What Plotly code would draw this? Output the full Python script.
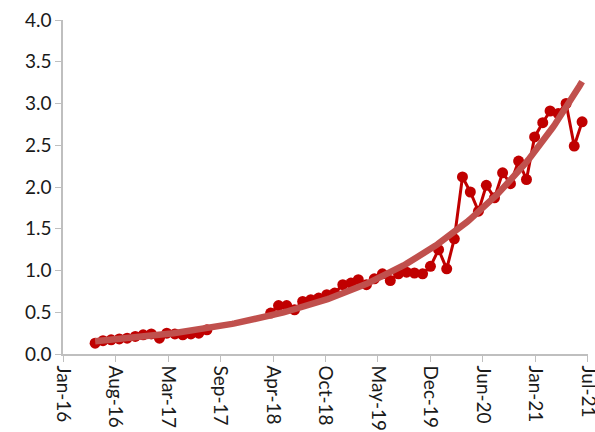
import numpy as np
import pandas as pd
import plotly.graph_objects as go

# ---- data (monthly) ----
months_a = pd.date_range("2016-06-01", "2017-08-01", freq="MS")
values_a = [0.13, 0.16, 0.17, 0.18, 0.19, 0.21, 0.23, 0.24, 0.19, 0.25,
            0.24, 0.23, 0.24, 0.25, 0.29]
months_gap = pd.date_range("2017-09-01", "2018-03-01", freq="MS")
months_b = pd.date_range("2018-04-01", "2021-07-01", freq="MS")
values_b = [0.49, 0.58, 0.58, 0.53, 0.63, 0.65, 0.67, 0.71, 0.73, 0.83,
            0.85, 0.89, 0.83, 0.90, 0.96, 0.88, 0.96, 0.98, 0.97, 0.96,
            1.05, 1.25, 1.02, 1.38, 2.12, 1.94, 1.71, 2.02, 1.87, 2.17,
            2.04, 2.31, 2.09, 2.60, 2.77, 2.91, 2.88, 3.00, 2.49, 2.78]

dates = list(months_a) + list(months_gap) + list(months_b)
values = values_a + [None] * len(months_gap) + values_b

# x-axis ticks (Excel date axis, 200-day major unit)
axis_start = pd.Timestamp("2016-01-31")
major_days = 200
n_ticks = 11
tick_dates = [axis_start + pd.Timedelta(days=major_days * i) for i in range(n_ticks)]
tick_labels = [d.strftime("%b-%y") for d in tick_dates]

# ---- exponential trendline (least squares on ln y, as Excel) ----
valid = [(d, v) for d, v in zip(dates, values) if v is not None]
t = np.array([(d - axis_start).days for d, _ in valid], dtype=float)
y = np.array([v for _, v in valid])
b, ln_a = np.polyfit(t, np.log(y), 1)
t_fit = np.linspace(t.min(), t.max(), 200)
trend_x = [axis_start + pd.Timedelta(days=float(d)) for d in t_fit]
trend_y = np.exp(ln_a + b * t_fit)

fig = go.Figure()
fig.add_trace(go.Scatter(
    x=dates, y=values, mode="lines+markers", connectgaps=False,
    line=dict(color="#C00000", width=3),
    marker=dict(color="#C00000", size=11),
    showlegend=False,
))
fig.add_trace(go.Scatter(
    x=trend_x, y=trend_y, mode="lines",
    line=dict(color="#C0504D", width=6.5),
    showlegend=False,
))

font = dict(family="Lato, 'Open Sans', sans-serif", size=19, color="#1a1a1a")
fig.update_layout(
    width=595, height=432,
    margin=dict(l=63, r=7, t=20, b=78),
    plot_bgcolor="white", paper_bgcolor="white",
    font=font,
)
fig.update_xaxes(
    type="date",
    range=[tick_dates[0] - pd.Timedelta(hours=12), tick_dates[-1] + pd.Timedelta(hours=12)],
    tickvals=tick_dates, ticktext=tick_labels,
    tickangle=90, ticklabeloverflow="allow",
    showline=True, linecolor="#BFBFBF", linewidth=1.5,
    ticks="outside", ticklen=6, tickcolor="#BFBFBF",
    showgrid=False, zeroline=False, automargin=False,
)
fig.update_yaxes(
    range=[0, 4], dtick=0.5, tickformat=".1f",
    showline=True, linecolor="#BFBFBF", linewidth=1.5,
    ticks="outside", ticklen=6, tickcolor="#BFBFBF",
    showgrid=False, zeroline=False, automargin=False,
)

fig.write_html("out.html")
